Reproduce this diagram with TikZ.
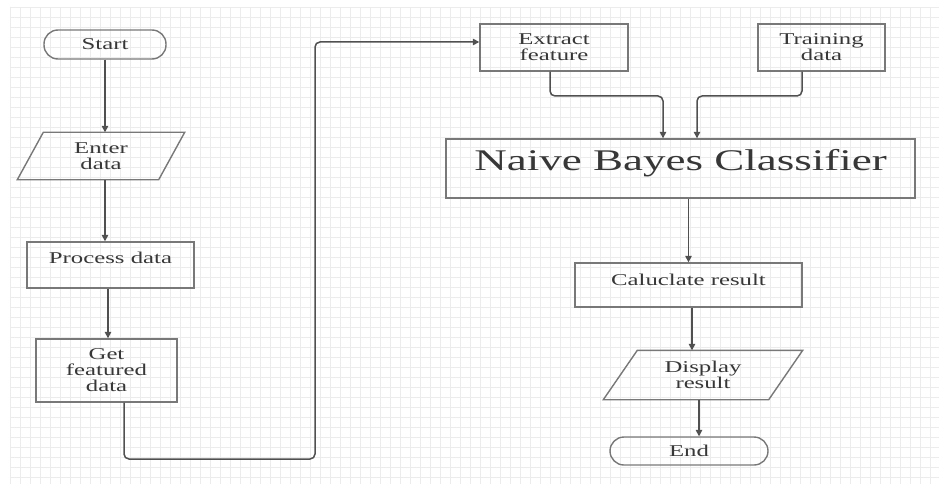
\documentclass[tikz,border=0pt]{standalone}
\usepackage{fontspec}
\setmainfont{Liberation Serif}[FakeStretch=1.5]
\usetikzlibrary{arrows.meta}
\definecolor{boxc}{RGB}{120,120,120}
\definecolor{arrc}{RGB}{80,80,80}
\definecolor{txtc}{RGB}{55,55,55}
\definecolor{gridc}{RGB}{236,236,236}
\begin{document}
\begin{tikzpicture}[x=1pt,y=-1pt,
  base/.style={draw=boxc, line width=1.4pt, text=txtc, align=center, inner sep=0pt,
    font=\fontsize{16.5}{16}\selectfont},
  term/.style={base, rounded corners=14pt},
  proc/.style={base},
  io/.style={base, draw=none},
  lbl/.style={text=txtc, align=center, inner sep=0pt, font=\fontsize{16.5}{16}\selectfont},
  arr/.style={draw=arrc, line width=1.5pt, -{Triangle[length=6.5pt,width=6.5pt]}},
  gridline/.style={draw=gridc, line width=0.5pt}]
\useasboundingbox (0,0) rectangle (939,484);
\fill[white] (0,0) rectangle (939,484);
\foreach \gx in {10,20,...,930} \draw[gridline] (\gx,7) -- (\gx,484);
\foreach \gy in {7,17,...,477} \draw[gridline] (10,\gy) -- (939,\gy);

% left column
\node[term, minimum width=122pt, minimum height=29pt] (start) at (105,44.5) {Start};
\node[io, minimum width=140pt, minimum height=46pt] (enter) at (101,156) {Enter\\data};
\draw[draw=boxc, line width=1.4pt] ([xshift=13pt]enter.north west) -- ([xshift=13pt]enter.north east)
  -- ([xshift=-13pt]enter.south east) -- ([xshift=-13pt]enter.south west) -- cycle;
\node[proc, minimum width=167pt, minimum height=46pt,
  label={[lbl,yshift=7pt]center:Process data}] (process) at (110.5,265) {};
\node[proc, minimum width=141pt, minimum height=63pt] (get) at (106.5,370.5) {Get\\featured\\data};

% right part
\node[proc, minimum width=148pt, minimum height=47pt] (extract) at (554,47.5) {Extract\\feature};
\node[proc, minimum width=127pt, minimum height=47pt] (train) at (821.5,47.5) {Training\\data};
\node[proc, minimum width=469pt, minimum height=59pt,
  label={[lbl,yshift=5.5pt,font=\fontsize{30}{30}\selectfont]center:Naive Bayes Classifier}] (nb) at (680.5,168.5) {};
\node[proc, minimum width=227pt, minimum height=44pt,
  label={[lbl,yshift=5pt]center:Caluclate result}] (calc) at (688.5,285) {};
\node[io, minimum width=164pt, minimum height=48pt] (display) at (703,375) {Display\\result};
\draw[draw=boxc, line width=1.4pt] ([xshift=17pt]display.north west) -- ([xshift=17pt]display.north east)
  -- ([xshift=-17pt]display.south east) -- ([xshift=-17pt]display.south west) -- cycle;
\node[term, minimum width=158pt, minimum height=28pt] (end) at (689,451) {End};

% connectors
\coordinate (loopA) at (315,459);
\coordinate (mA) at (663,96);
\coordinate (mB) at (697,96);
\draw[arr] (start.south) -- (start.south |- enter.north);
\draw[arr] (enter.south -| start.south) -- (process.north -| start.south);
\draw[arr] ([xshift=-2.5pt]process.south) -- ([xshift=-2.5pt]process.south |- get.north);
\draw[arr, rounded corners=5pt] ([xshift=17.5pt]get.south) |- (loopA) |- ([yshift=5.5pt]extract.west);
\draw[arr, rounded corners=5pt] ([xshift=-4pt]extract.south) |- (mA) -- (mA |- nb.north);
\draw[arr, rounded corners=5pt] ([xshift=-19.5pt]train.south) |- (mB) -- (mB |- nb.north);
\draw[arr] (nb.south -| calc.north) -- (calc.north);
\draw[arr] ([xshift=3.5pt]calc.south) -- ([xshift=3.5pt]calc.south |- display.north);
\draw[arr] ([xshift=-4pt]display.south) -- ([xshift=-4pt]display.south |- end.north);
\end{tikzpicture}
\end{document}
